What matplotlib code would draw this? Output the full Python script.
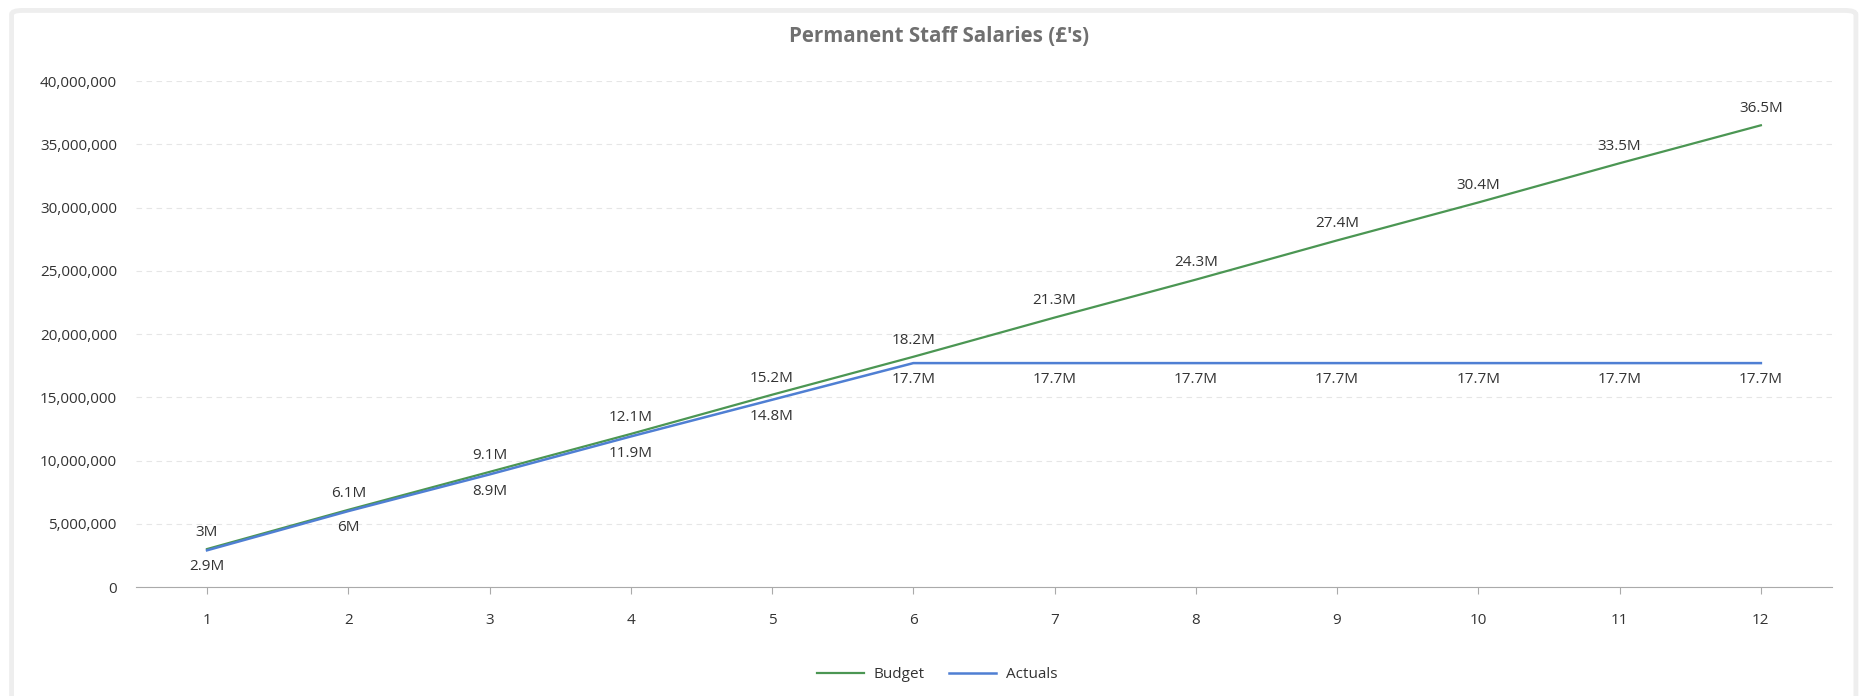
import matplotlib as mpl
from matplotlib import pyplot as plt
from matplotlib.patches import FancyBboxPatch
from matplotlib.ticker import FuncFormatter

mpl.rcParams['font.family'] = ['Open Sans', 'DejaVu Sans']

months = [1, 2, 3, 4, 5, 6, 7, 8, 9, 10, 11, 12]
budget = [3.0e6, 6.1e6, 9.1e6, 12.1e6, 15.2e6, 18.2e6, 21.3e6, 24.3e6, 27.4e6, 30.4e6, 33.5e6, 36.5e6]
actuals = [2.9e6, 6.0e6, 8.9e6, 11.9e6, 14.8e6, 17.7e6, 17.7e6, 17.7e6, 17.7e6, 17.7e6, 17.7e6, 17.7e6]

green = '#4b9653'
blue = '#4f7fd3'
text_col = '#333333'
fs = 11


def short(v):
    s = f'{v / 1e6:.1f}'.rstrip('0').rstrip('.')
    return s + 'M'


fig = plt.figure(figsize=(18.63, 6.96), dpi=100)

# card border
card = FancyBboxPatch((0.0062, -0.05), 0.99, 1.035, transform=fig.transFigure,
                      boxstyle='round,pad=0,rounding_size=0.006',
                      facecolor='white', edgecolor='#eeeeee', linewidth=3.5, zorder=-10)
fig.patches.append(card)

ax = fig.add_axes([0.0732, 0.1566, 0.9099, 0.727])
ax.set_facecolor('none')

ax.plot(months, budget, color=green, lw=1.6, label='Budget', zorder=3)
ax.plot(months, actuals, color=blue, lw=1.8, label='Actuals', zorder=3)

for x, b, a in zip(months, budget, actuals):
    ax.annotate(short(b), (x, b), xytext=(0, 12), textcoords='offset points',
                ha='center', va='center', fontsize=fs, color=text_col)
    ax.annotate(short(a), (x, a), xytext=(0, -12), textcoords='offset points',
                ha='center', va='center', fontsize=fs, color=text_col)

ax.set_xlim(0.5, 12.5)
ax.set_ylim(0, 40e6)
ax.set_xticks(months)
ax.set_yticks(range(0, 40000001, 5000000))
ax.yaxis.set_major_formatter(FuncFormatter(lambda v, p: f'{int(v):,}'))
ax.grid(axis='y', color='#e6e6e6', linestyle=(0, (5, 4)), linewidth=0.8)
ax.set_axisbelow(True)

for s in ['top', 'right', 'left']:
    ax.spines[s].set_visible(False)
ax.spines['bottom'].set_color('#aaaaaa')
ax.tick_params(axis='y', length=0, pad=14, labelsize=fs, labelcolor=text_col)
ax.tick_params(axis='x', length=5, color='#aaaaaa', pad=14, labelsize=fs, labelcolor=text_col)

fig.text(0.504, 0.947, "Permanent Staff Salaries (£'s)", ha='center', va='center',
         fontsize=14.8, fontweight='bold', color='#707070')

fig.legend(loc='center', bbox_to_anchor=(0.503, 0.031), ncol=2, frameon=False,
           fontsize=fs, handlelength=3.1, columnspacing=1.6, handletextpad=0.6,
           labelcolor=text_col)

fig.savefig('out.png', dpi=100)
